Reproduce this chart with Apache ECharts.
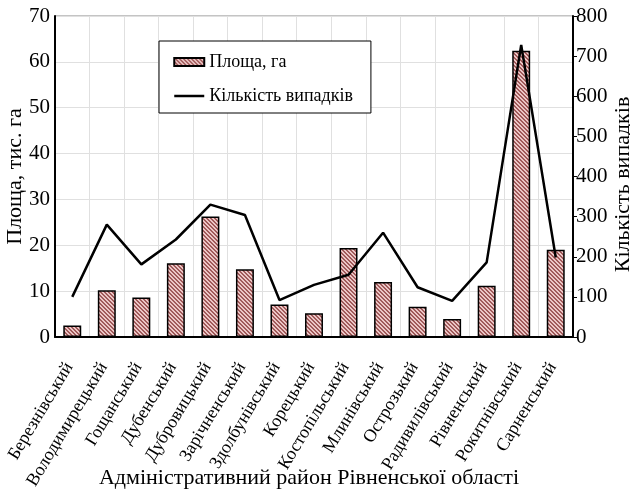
<!DOCTYPE html>
<html><head><meta charset="utf-8">
<script src="https://cdn.jsdelivr.net/npm/echarts@6/dist/echarts.min.js"></script>
<style>html,body{margin:0;padding:0;background:#fff}#c{width:630px;height:492px}</style>
</head><body><div id="c"></div>
<script>
const categories = ['Березнівський','Володимирецький','Гощанський','Дубенський','Дубровицький','Зарічненський','Здолбунівський','Корецький','Костопільський','Млинівський','Острозький','Радивилівський','Рівненський','Рокитнівський','Сарненський'];
const areaValues = [2.5, 10.2, 8.6, 16.1, 26.3, 14.8, 7.1, 5.2, 19.4, 12.0, 6.6, 3.9, 11.2, 62.4, 19.0];
const caseValues = [100, 280, 181, 243, 330, 304, 92, 130, 155, 260, 124, 90, 186, 728, 198];
const areaName = 'Площа, га';
const casesName = 'Кількість випадків';

const FONT = "'Liberation Serif', 'DejaVu Serif', serif";

// hatch pattern
const pc = document.createElement('canvas');
pc.width = 4; pc.height = 4;
const px = pc.getContext('2d');
px.fillStyle = '#ecc6c6'; px.fillRect(0,0,4,4);
px.fillStyle = '#a05a5a';
for (let i = 0; i < 4; i++) { px.fillRect(i, i, 1, 1); px.fillRect((i+1)%4, i, 1, 1); }

const chart = echarts.init(document.getElementById('c'), null, {renderer:'canvas'});
chart.setOption({
  animation: false,
  backgroundColor: '#fff',
  textStyle: {fontFamily: FONT, color: '#000'},
  grid: {left: 55, right: 57, top: 16, bottom: 155, show: true, borderColor: '#888', borderWidth: 1, containLabel: false, outerBoundsMode: 'none'},
  legend: {
    orient: 'vertical', left: 159, top: 41,
    backgroundColor: '#fff', borderColor: '#000', borderWidth: 1,
    padding: [12, 18, 8, 14], itemGap: 16, itemWidth: 30, itemHeight: 8,
    textStyle: {fontFamily: FONT, fontSize: 18, color: '#000'},
    data: [
      {name: areaName, icon: 'rect'},
      {name: casesName, itemStyle: {opacity: 0}, lineStyle: {width: 2.5, color: '#000'}}
    ]
  },
  xAxis: {
    type: 'category', data: categories,
    name: 'Адміністративний район Рівненської області',
    nameLocation: 'middle', nameGap: 130, nameMoveOverlap: false,
    nameTextStyle: {fontFamily: FONT, fontSize: 22, color: '#000', padding: [0, 10, 0, 0]},
    axisLine: {lineStyle: {color: '#000', width: 2}},
    axisTick: {show: false},
    axisLabel: {interval: 0, rotate: 59, fontFamily: FONT, fontSize: 18, color: '#000', margin: 22, padding: [0, 6, 0, 0]},
    splitLine: {show: true, interval: 0, lineStyle: {color: '#e0e0e0', width: 1}}
  },
  yAxis: [
    {
      type: 'value', min: 0, max: 70, interval: 10,
      name: 'Площа, тис. га', nameLocation: 'middle', nameGap: 29, nameMoveOverlap: false,
      nameTextStyle: {fontFamily: FONT, fontSize: 22, color: '#000'},
      axisLine: {show: true, lineStyle: {color: '#000', width: 2}},
      axisTick: {show: false},
      axisLabel: {fontFamily: FONT, fontSize: 21, color: '#000', margin: 5},
      splitLine: {show: true, lineStyle: {color: '#e0e0e0', width: 1}}
    },
    {
      type: 'value', min: 0, max: 800, interval: 100,
      name: casesName, nameLocation: 'middle', nameGap: 39, nameMoveOverlap: false,
      nameTextStyle: {fontFamily: FONT, fontSize: 22, color: '#000', padding: [0, 16, 0, 0]},
      axisLine: {show: true, lineStyle: {color: '#000', width: 2}},
      axisTick: {show: true, inside: false, length: 4, lineStyle: {color: '#000'}},
      axisLabel: {fontFamily: FONT, fontSize: 21, color: '#000', margin: 3},
      splitLine: {show: false}
    }
  ],
  series: [
    {
      name: areaName, type: 'bar', yAxisIndex: 0, data: areaValues, barWidth: '52%',
      itemStyle: {color: {image: pc, repeat: 'repeat'}, borderColor: '#000', borderWidth: 1.5}
    },
    {
      name: casesName, type: 'line', yAxisIndex: 1, data: caseValues,
      symbol: 'none', lineStyle: {color: '#000', width: 2.5}, itemStyle: {color: '#000'}
    }
  ]
});
</script></body></html>
